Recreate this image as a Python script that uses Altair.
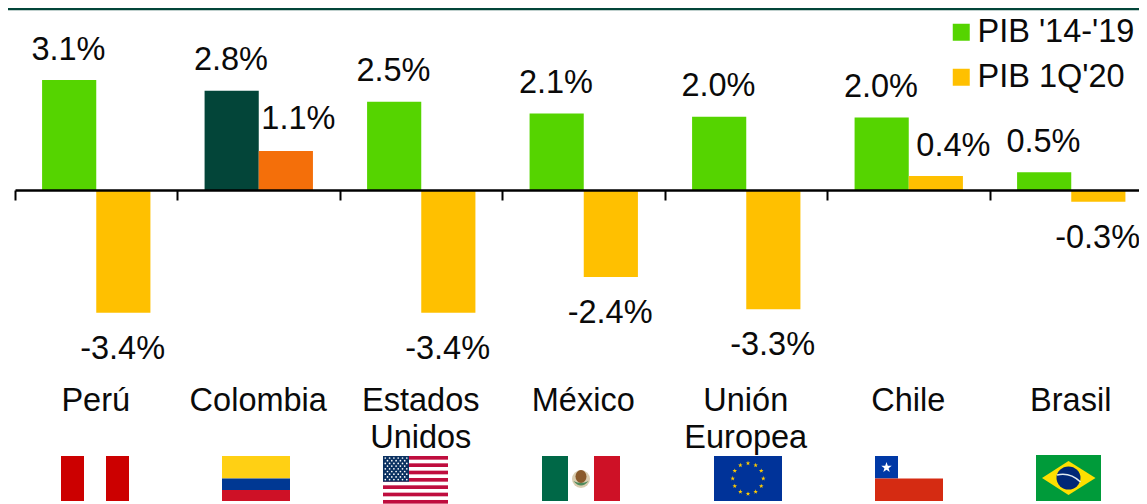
import base64, math
import altair as alt
import pandas as pd

countries = ["Perú", "Colombia", "Estados Unidos", "México", "Unión Europea", "Chile", "Brasil"]
series = ["PIB '14-'19", "PIB 1Q'20"]
gdp_14_19 = [3.08, 2.78, 2.47, 2.14, 2.05, 2.03, 0.5]
gdp_1q20 = [-3.44, 1.09, -3.44, -2.44, -3.34, 0.39, -0.33]
labels_14_19 = ["3.1%", "2.8%", "2.5%", "2.1%", "2.0%", "2.0%", "0.5%"]
labels_1q20 = ["-3.4%", "1.1%", "-3.4%", "-2.4%", "-3.3%", "0.4%", "-0.3%"]

GREEN, YELLOW, DARK, ORANGE = "#55D400", "#FFC000", "#034539", "#F46F0A"
FONT = "Liberation Sans"
TEXT = "#0a0a0a"
FS = 32.5
W, H = 1131, 496
Y0 = 182
PX = 35.7

rows = []
for i, c in enumerate(countries):
    hi = c == "Colombia"
    rows.append(dict(country=c, series=series[0], value=gdp_14_19[i], label=labels_14_19[i],
                     key="Colombia " + series[0] if hi else series[0]))
    rows.append(dict(country=c, series=series[1], value=gdp_1q20[i], label=labels_1q20[i],
                     key="Colombia " + series[1] if hi else series[1]))
df = pd.DataFrame(rows)

x = alt.X("country:N", sort=countries,
          scale=alt.Scale(domain=countries, range=[7, 1144.5], paddingInner=0, paddingOuter=0),
          axis=alt.Axis(title=None, labels=False, ticks=True, tickSize=10, tickColor="#000", tickWidth=2,
                        domainColor="#000", domainWidth=2.5, bandPosition=0, grid=False,
                        offset=Y0 - H, zindex=1))
xo = alt.XOffset("series:N", sort=series,
                 scale=alt.Scale(domain=series, paddingInner=0, paddingOuter=0.5))
y = alt.Y("value:Q", stack=None, axis=None,
          scale=alt.Scale(domain=[-(H - Y0) / PX, Y0 / PX], nice=False, zero=False))

bars = alt.Chart(df).mark_bar().encode(
    x=x, xOffset=xo, y=y,
    color=alt.Color("key:N", scale=alt.Scale(
        domain=series + ["Colombia " + s for s in series],
        range=[GREEN, YELLOW, DARK, ORANGE]),
        legend=alt.Legend(values=series, title=None, orient="none", legendX=937, legendY=8,
                          symbolType="square", symbolSize=289, symbolStrokeWidth=0, labelFont=FONT,
                          labelFontSize=FS, labelColor=TEXT, labelLimit=300, rowPadding=12,
                          labelOffset=0, padding=0, symbolOpacity=1)),
)

def val_labels(cond, dy, dx=-0.7):
    return alt.Chart(df).transform_filter(cond).mark_text(
        font=FONT, fontSize=FS, color=TEXT, baseline="middle", align="center", dy=dy, dx=dx
    ).encode(x=x, xOffset=xo, y=y, text="label:N")

SHIFTED_A, SHIFTED_B = "1.1%", "0.4%"
plain_pos = val_labels(f"datum.value > 0 && datum.label != '{SHIFTED_A}' && datum.label != '{SHIFTED_B}'", -30.5)
neg = val_labels("datum.value < 0", 36)
shift_a = val_labels(f"datum.label == '{SHIFTED_A}'", -32, 12.5)
shift_b = val_labels(f"datum.label == '{SHIFTED_B}'", -30.5, 17.5)

names = alt.Chart(pd.DataFrame({"country": countries})).mark_text(
    font=FONT, fontSize=FS, color=TEXT, baseline="alphabetic", align="center",
    lineBreak=" ", lineHeight=37, dx=-0.5
).encode(x=x, y=alt.value(403), text="country:N")

top = alt.Chart(pd.DataFrame({"k": ["line"]})).mark_rule(color=DARK, strokeWidth=2.5).encode(
    x=alt.value(0), x2=alt.value(W), y=alt.value(1))


def star(cx, cy, r, fill):
    pts = []
    for k in range(10):
        a = -math.pi / 2 + k * math.pi / 5
        q = r if k % 2 == 0 else r * 0.4
        pts.append(f"{cx + q * math.cos(a):.2f},{cy + q * math.sin(a):.2f}")
    return f'<polygon points="{" ".join(pts)}" fill="{fill}"/>'


def svg(w, h, body):
    s = f'<svg xmlns="http://www.w3.org/2000/svg" width="{w}" height="{h}" viewBox="0 0 {w} {h}">{body}</svg>'
    return "data:image/svg+xml;base64," + base64.b64encode(s.encode()).decode()


def r(x0, y0, w, h, fill):
    return f'<rect x="{x0}" y="{y0}" width="{w}" height="{h}" fill="{fill}"/>'


peru = r(0, 0, 23, 45, "#CC0000") + r(23, 0, 22, 45, "#fff") + r(45, 0, 23, 45, "#CC0000")
colombia = r(0, 0, 68, 22.5, "#FFD014") + r(0, 22.5, 68, 11.5, "#003893") + r(0, 34, 68, 11, "#CE1126")
usa = r(0, 0, 65, 48, "#fff")
for k in range(7):
    usa += r(0, k * 7.33, 65, 3.67, "#BF0D3E")
usa += r(0, 0, 26, 25.7, "#0A3161")
for row in range(9):
    n = 6 if row % 2 == 0 else 5
    for c in range(n):
        cx = (2.3 if row % 2 == 0 else 4.5) + c * 4.3
        usa += f'<circle cx="{cx:.2f}" cy="{2 + row * 2.7:.2f}" r="0.85" fill="#fff"/>'
mexico = (r(0, 0, 26, 45, "#006847") + r(26, 0, 26, 45, "#fff") + r(52, 0, 26, 45, "#CE1126")
          + '<circle cx="39" cy="23" r="9" fill="#D9CDB0"/>'
          + '<ellipse cx="39" cy="20.5" rx="5.5" ry="6.5" fill="#8A5A2B"/>'
          + '<path d="M31.5 25 Q39 34 46.5 25 Q39 29 31.5 25Z" fill="#4F8A5B"/>')
eu = r(0, 0, 68, 45, "#003399")
for k in range(12):
    a = k * math.pi / 6
    eu += star(34 + 15.3 * math.sin(a), 22.5 - 15.3 * math.cos(a), 2.4, "#FFCC00")
chile = (r(0, 0, 68, 22.5, "#fff") + r(0, 0, 23, 22.5, "#0039A6") + star(11.5, 11.5, 5.5, "#fff")
         + r(0, 22.5, 68, 22.5, "#D52B12"))
brazil = (r(0, 0, 65, 46, "#009B3A")
          + '<polygon points="6,23 32.5,6 59.5,23 32.5,40" fill="#FEDF00"/>'
          + '<ellipse cx="32.5" cy="23" rx="12" ry="11.5" fill="#002776"/>'
          + '<path d="M21 20 Q34 17 44.5 27" stroke="#dfeaf0" stroke-width="1.6" fill="none"/>')

flags = [
    ("Perú", peru, 68, 45, 53, 448),
    ("Colombia", colombia, 68, 45, 214, 448),
    ("Estados Unidos", usa, 65, 48, 375, 448),
    ("México", mexico, 78, 45, 534, 448),
    ("Unión Europea", eu, 68, 45, 706, 448),
    ("Chile", chile, 68, 45, 867, 448),
    ("Brasil", brazil, 65, 46, 1028, 447),
]
flag_layers = [
    alt.Chart(pd.DataFrame({"flag": [n]})).mark_image(
        url=svg(w, h, body), width=w, height=h, align="left", baseline="top"
    ).encode(x=alt.value(px), y=alt.value(py))
    for n, body, w, h, px, py in flags
]

chart = alt.layer(top, bars, plain_pos, neg, shift_a, shift_b, names, *flag_layers).properties(
    width=W, height=H, padding=0, autosize=alt.AutoSizeParams(type="none"), background="white"
).configure_view(stroke=None)

chart.save("out.html", embed_options={"renderer": "svg", "actions": False})
